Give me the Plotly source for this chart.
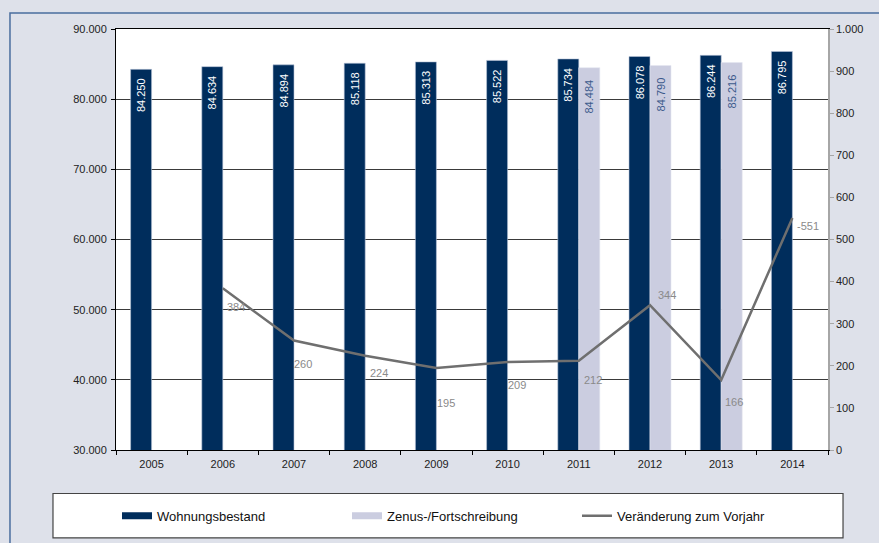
import plotly.graph_objects as go

years = ["2005", "2006", "2007", "2008", "2009", "2010", "2011", "2012", "2013", "2014"]
bestand = [84250, 84634, 84894, 85118, 85313, 85522, 85734, 86078, 86244, 86795]
zensus = [None, None, None, None, None, None, 84484, 84790, 85216, None]
veraenderung = [None, 384, 260, 224, 195, 209, 212, 344, 166, 551]
ver_labels = ["", "384", "260", "224", "195", "209", "212", "344", "166", "-551"]
# label offsets (pixels) relative to point
lbl_dx = [0, 13, 9, 14, 10, 9, 14, 17, 13, 16]
lbl_dy = [0, -19, -23, -17, -35, -23, -19, 10, -22, -8]

NAVY = "#002d5c"
LAV = "#cbcde0"
LINE = "#6f6f6f"
FONT = "Liberation Sans, Arial, sans-serif"
empty = [None] * len(years)
PAD = "\u00a0\u00a0"

fig = go.Figure()
fig.add_trace(go.Bar(
    x=years, y=bestand, name="Wohnungsbestand", marker=dict(color=NAVY, line=dict(color="#b8c4d8", width=0.6)),
    texttemplate="%{y:,.0f}" + PAD, textposition="inside", insidetextanchor="end", textangle=-90,
    textfont=dict(color="white", size=11, family=FONT), showlegend=False,
))
fig.add_trace(go.Bar(
    x=years, y=zensus, name="Zenus-/Fortschreibung", marker=dict(color=LAV, line=dict(color="#e4e6f0", width=0.6)),
    texttemplate="%{y:,.0f}" + PAD + "\u00a0", textposition="inside", insidetextanchor="end", textangle=-90,
    textfont=dict(color="#3b5a8c", size=11, family=FONT), showlegend=False,
))
fig.add_trace(go.Scatter(
    x=years, y=veraenderung, name="Veränderung zum Vorjahr", yaxis="y2", mode="lines",
    line=dict(color=LINE, width=2.5), showlegend=False,
))
# legend entries
fig.add_trace(go.Scatter(x=years, y=empty, mode="lines", name="Wohnungsbestand",
                         line=dict(color=NAVY, width=7), hoverinfo="skip"))
fig.add_trace(go.Scatter(x=years, y=empty, mode="lines", name="Zenus-/Fortschreibung",
                         line=dict(color=LAV, width=7), hoverinfo="skip"))
fig.add_trace(go.Scatter(x=years, y=empty, mode="lines", name="Veränderung zum Vorjahr",
                         line=dict(color=LINE, width=2.5), yaxis="y2", hoverinfo="skip"))

annotations = []
for i, (v, t, dx, dy) in enumerate(zip(veraenderung, ver_labels, lbl_dx, lbl_dy)):
    if v is None:
        continue
    annotations.append(dict(x=i, y=v, xref="x", yref="y2", text=t, showarrow=False,
                            xshift=dx, yshift=dy, font=dict(color="#8a8a8a", size=11, family=FONT)))

shapes = [
    # frame border
    dict(type="rect", xref="paper", yref="paper", x0=-0.1489, x1=1.3, y0=-0.4, y1=1.0378,
         line=dict(color="#4a6e9e", width=1.5), fillcolor="rgba(0,0,0,0)", layer="below"),
    # legend box
    dict(type="rect", xref="paper", yref="paper", x0=-0.0885, x1=1.0211, y0=-0.2085, y1=-0.1033,
         line=dict(color="#444444", width=1.2), fillcolor="white", layer="below"),
]

fig.update_layout(
    width=879, height=543,
    margin=dict(l=116, r=51, t=29, b=91),
    paper_bgcolor="#dee1ea", plot_bgcolor="white",
    separators=",.",
    barmode="group", bargap=0.41, bargroupgap=0,
    font=dict(family=FONT, size=11, color="#222222"),
    xaxis=dict(type="category", categoryorder="array", categoryarray=years, range=[-0.5, 9.5],
               tickson="boundaries", ticks="outside", ticklen=4, tickcolor="black",
               showline=True, mirror=True, linecolor="black", linewidth=1, showgrid=False,
               tickfont=dict(size=11), tickangle=0, ticklabelstandoff=4),
    yaxis=dict(range=[30000, 90000], dtick=10000, tickformat=",.0f", showgrid=True,
               gridcolor="#3a3a3a", gridwidth=1, showline=True, linecolor="black", linewidth=1,
               ticks="outside", ticklen=4, tickcolor="black", zeroline=False,
               tickfont=dict(size=11), ticklabelstandoff=2),
    yaxis2=dict(range=[0, 1000], dtick=100, tickformat=",.0f", overlaying="y", side="right",
                showgrid=False, showline=True, linecolor="#a6a6a6", linewidth=1.5,
                ticks="outside", ticklen=4, tickcolor="#a6a6a6", zeroline=False,
                tickfont=dict(size=11)),
    legend=dict(orientation="h", x=0.0014, xanchor="left", y=-0.156, yanchor="middle",
                bgcolor="rgba(0,0,0,0)", font=dict(size=13, family=FONT, color="#111111"),
                entrywidth=185, entrywidthmode="pixels", itemwidth=30),
    annotations=annotations,
    shapes=shapes,
)

fig.write_html("out.html")
